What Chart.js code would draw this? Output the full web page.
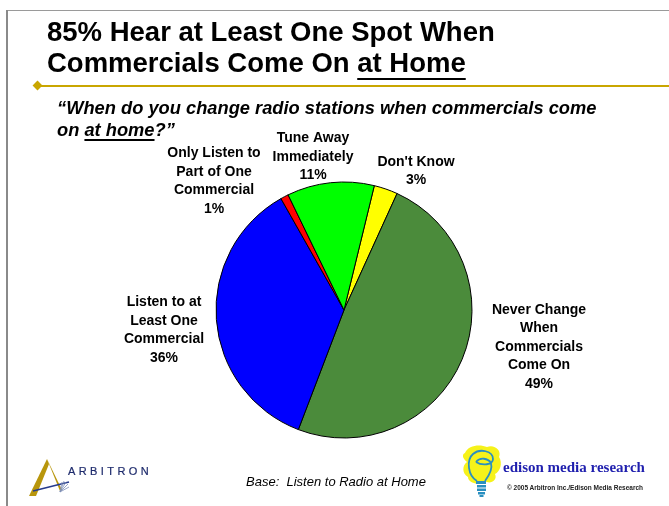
<!DOCTYPE html>
<html>
<head>
<meta charset="utf-8">
<title>Changing stations when commercials come on at home</title>
<script src="https://cdn.jsdelivr.net/npm/chart.js@4"></script>
<style>
  html, body { margin: 0; padding: 0; background: #fff; }
  #slide { position: relative; width: 669px; height: 506px; overflow: hidden;
           font-family: "Liberation Sans", Arial, sans-serif; color: #000; }
  #pie { position: absolute; left: 0; top: 0; }
  .frame-top { position: absolute; left: 7px; top: 10px; width: 662px; height: 1px; background: #9a9a9a; }
  .frame-left { position: absolute; left: 6px; top: 10px; width: 2px; height: 496px; background: #8a8a8a; }
  .rule { position: absolute; left: 38px; top: 85px; width: 631px; height: 2px; background: #c9a600; }
  .diamond { position: absolute; left: 34px; top: 82px; width: 7px; height: 7px; background: #c9a600;
             transform: rotate(45deg); }
  .title { position: absolute; left: 47px; top: 16px; font-weight: bold; font-size: 27.5px;
           line-height: 31px; white-space: nowrap; }
  .title u { text-decoration-thickness: 2px; text-underline-offset: 6px; }
  .question { position: absolute; left: 57px; top: 97px; font-weight: bold; font-style: italic;
              font-size: 18.3px; line-height: 22px; white-space: nowrap; }
  .question u { text-decoration-thickness: 1.5px; text-underline-offset: 3px; }
  .base { position: absolute; left: 246px; top: 474px; font-style: italic; font-size: 13px;
          line-height: 16px; white-space: nowrap; }
  .arb-word { position: absolute; left: 68px; top: 464px; font-size: 11px; line-height: 14px;
              letter-spacing: 3.4px; color: #1e2b6c; white-space: nowrap; -webkit-text-stroke: 0.2px #1e2b6c; }
  .emr-word { position: absolute; left: 503px; top: 457px; font-family: "Liberation Serif", "Times New Roman", serif;
              font-weight: bold; font-size: 15px; line-height: 20px; color: #1f1fae; white-space: nowrap; }
  .copy { position: absolute; left: 507px; top: 484px; font-weight: bold; font-size: 6.5px;
          line-height: 8px; color: #222; white-space: nowrap; }
  svg { position: absolute; }
</style>
</head>
<body>
<div id="slide">
  <canvas id="pie" width="669" height="506"></canvas>

  <div class="frame-top"></div>
  <div class="frame-left"></div>
  <div class="rule"></div>
  <div class="diamond"></div>

  <div class="title">85% Hear at Least One Spot When<br>Commercials Come On <u>at Home</u></div>
  <div class="question">“When do you change radio stations when commercials come<br>on <u>at home</u>?”</div>

  <!-- Arbitron mark -->
  <svg style="left:26px;top:455px" width="50" height="45" viewBox="0 0 50 45">
    <polygon points="3,41 10,41 23,9 21,4" fill="#b8960c"/>
    <polygon points="21,4 23,9 34,36 36,35" fill="#b8960c"/>
    <line x1="7" y1="36" x2="43" y2="27" stroke="#243a8c" stroke-width="1.7"/>
    <g stroke="#7f8fb8" stroke-width="0.8">
      <line x1="34" y1="37" x2="38" y2="26"/>
      <line x1="34" y1="37" x2="40" y2="27"/>
      <line x1="34" y1="37" x2="42" y2="29"/>
      <line x1="34" y1="37" x2="43" y2="32"/>
      <line x1="34" y1="37" x2="36" y2="27"/>
    </g>
  </svg>
  <div class="arb-word">ARBITRON</div>

  <div class="base">Base:&nbsp; Listen to Radio at Home</div>

  <!-- Edison bulb mark -->
  <svg style="left:460px;top:444px" width="45" height="56" viewBox="0 0 45 56">
    <path d="M5,9 C8,1 20,0 27,3 C34,0 42,6 39,13 C43,19 40,28 35,30 C38,36 30,41 25,37
             C19,42 8,39 8,33 C2,30 2,21 7,18 C2,14 2,10 5,9 Z" fill="#f6f21a"/>
    <path d="M17,37 C8,32 6,16 13,10 C20,4 33,7 33,15 C33,21 22,22 16,18 M16,18 C20,13 28,14 31,19
             C33,26 28,33 25,37" fill="none" stroke="#2a8fc0" stroke-width="1.8"/>
    <rect x="16" y="37" width="10" height="3" fill="#2a8fc0"/>
    <rect x="17" y="41" width="9" height="2.5" fill="#2a8fc0"/>
    <rect x="17" y="44.5" width="9" height="2.5" fill="#2a8fc0"/>
    <rect x="18" y="48" width="7" height="2.5" fill="#2a8fc0"/>
    <rect x="19.5" y="51" width="4" height="2" fill="#2a8fc0"/>
  </svg>
  <div class="emr-word">edison media research</div>
  <div class="copy">© 2005 Arbitron Inc./Edison Media Research</div>
</div>

<script>
// Answers, in the order they are drawn clockwise
const categories = [
  ["Don't Know"],
  ["Never Change", "When", "Commercials", "Come On"],
  ["Listen to at", "Least One", "Commercial"],
  ["Only Listen to", "Part of One", "Commercial"],
  ["Tune Away", "Immediately"]
];
const percents = [3, 49, 36, 1, 11];
const sliceColors = ["#ffff00", "#4b8b3b", "#0000ff", "#ff0000", "#00ff00"];

// Where each answer's caption sits, relative to the pie centre
const captionOffsets = [[72, -139], [195, 37], [-180, 20], [-130, -129], [-31, -153]];

const captionPlugin = {
  id: 'sliceCaptions',
  afterDatasetsDraw(chart) {
    const ctx = chart.ctx;
    const arcs = chart.getDatasetMeta(0).data;
    const lineH = 18.5;
    ctx.save();
    ctx.fillStyle = '#000';
    ctx.font = 'bold 14px "Liberation Sans", Arial, sans-serif';
    ctx.textAlign = 'center';
    ctx.textBaseline = 'middle';
    arcs.forEach((arc, i) => {
      const lines = categories[i].concat([percents[i] + '%']);
      const cx = arc.x + captionOffsets[i][0];
      const cy = arc.y + captionOffsets[i][1];
      const top = cy - (lines.length - 1) * lineH / 2;
      lines.forEach((t, k) => ctx.fillText(t, cx, top + k * lineH));
    });
    ctx.restore();
  }
};

new Chart(document.getElementById('pie'), {
  type: 'pie',
  data: {
    labels: categories.map(c => c.join(' ')),
    datasets: [{
      data: percents,
      backgroundColor: sliceColors,
      borderColor: '#000',
      borderWidth: 1
    }]
  },
  options: {
    responsive: false,
    animation: false,
    rotation: 13.7,
    radius: 128,
    layout: { padding: { left: 150, right: 131, top: 170, bottom: 56 } },
    plugins: { legend: { display: false }, tooltip: { enabled: false } }
  },
  plugins: [captionPlugin]
});
</script>
</body>
</html>
